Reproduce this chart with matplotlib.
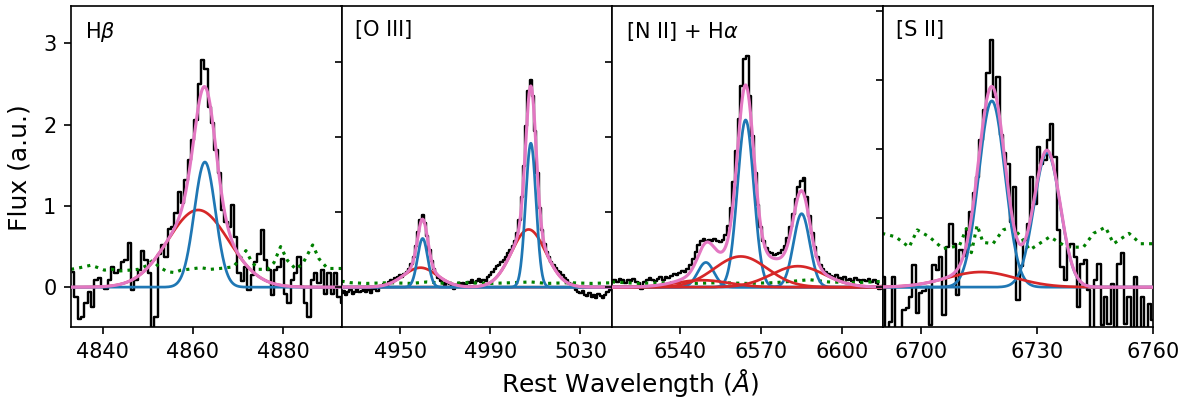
"""Emission-line fits: Hbeta, [O III], [N II]+Halpha and [S II] panels."""

import numpy as np
import matplotlib
matplotlib.use("Agg")
import matplotlib.pyplot as plt

# ---- H beta ---------------------------------------------------------------
hb_start, hb_step = 4833.35, 0.739
hb_flux = [0.19, -0.12, -0.39, -0.37, -0.20, -0.06, -0.24, 0.09, 0.11, 0.00,
           -0.02, 0.09, 0.25, 0.17, 0.21, 0.31, 0.33, 0.54, -0.04, 0.09,
           0.21, 0.44, 0.33, 0.17, -0.60, -0.37, 0.41, 0.52, 0.37, 0.72,
           0.74, 0.91, 1.17, 1.03, 1.32, 1.56, 1.81, 2.06, 2.50, 2.80,
           2.69, 2.22, 2.02, 1.69, 1.40, 0.95, 0.80, 0.74, 1.01, 0.62,
           0.17, 0.07, 0.25, -0.04, 0.15, 0.31, 0.41, 0.70, 0.33, 0.21,
           -0.10, 0.21, 0.25, 0.35, -0.08, -0.20, 0.09, 0.17, 0.37, 0.00,
           -0.20, -0.37, 0.09, 0.17, 0.05, 0.21, -0.08, 0.17, -0.08, 0.17,
           -0.12, -0.20]
hb_err_wave = [4833.0, 4835.0, 4837.4, 4839.0, 4840.4, 4842.0, 4844.0, 4846.0,
               4848.0, 4850.0, 4851.1, 4852.5, 4854.4, 4856.0, 4857.4, 4859.0,
               4861.8, 4864.0, 4866.0, 4869.0, 4870.5, 4871.8, 4873.0, 4874.5,
               4876.6, 4878.0, 4879.5, 4881.0, 4882.9, 4884.5, 4886.6, 4888.0,
               4889.9, 4893.0]
hb_err = [0.22, 0.24, 0.27, 0.24, 0.21, 0.22, 0.20, 0.21, 0.22, 0.27, 0.33,
          0.25, 0.19, 0.18, 0.21, 0.22, 0.24, 0.22, 0.23, 0.25, 0.35, 0.45,
          0.32, 0.22, 0.22, 0.30, 0.50, 0.33, 0.22, 0.30, 0.52, 0.35, 0.23,
          0.23]
# (amplitude, centre, sigma)
hb_narrow = [(1.54, 4862.7, 2.35)]
hb_broad = [(0.95, 4861.2, 6.75)]

# ---- [O III] --------------------------------------------------------------
o3_start, o3_step = 4924.0, 1.0
o3_flux = [-0.08, -0.05, -0.10, -0.06, -0.04, -0.09, -0.06, -0.03, -0.07, -0.05,
           -0.02, -0.06, -0.04, -0.08, -0.03, -0.01, -0.05, 0.01, 0.00, 0.04,
           0.02, 0.07, 0.10, 0.08, 0.12, 0.14, 0.16, 0.13, 0.18, 0.20,
           0.24, 0.31, 0.40, 0.55, 0.74, 0.90, 0.96, 0.86, 0.68, 0.50,
           0.35, 0.24, 0.17, 0.12, 0.08, 0.05, 0.03, 0.06, 0.04, 0.00,
           -0.02, 0.03, 0.05, 0.02, 0.06, 0.04, 0.07, 0.05, 0.09, 0.06,
           0.08, 0.11, 0.07, 0.10, 0.08, 0.13, 0.16, 0.20, 0.24, 0.28,
           0.30, 0.33, 0.36, 0.40, 0.45, 0.50, 0.55, 0.62, 0.72, 0.90,
           1.20, 1.62, 2.15, 2.62, 2.77, 2.55, 2.08, 1.52, 1.05, 0.76,
           0.58, 0.47, 0.40, 0.34, 0.30, 0.26, 0.22, 0.20, 0.16, 0.12,
           0.10, 0.06, 0.04, 0.00, -0.04, -0.06, -0.08, -0.05, -0.10, -0.12,
           -0.08, -0.13, -0.10, -0.14, -0.09, -0.12, -0.15, -0.10, -0.06, -0.04,
           0.00, -0.02]
o3_err_wave = [4924, 4928, 4935, 4945, 4955, 4962, 4970, 4980, 4990, 5000,
               5008, 5015, 5025, 5035, 5045]
o3_err = [0.08, 0.06, 0.05, 0.06, 0.05, 0.07, 0.05, 0.06, 0.05, 0.06,
          0.07, 0.05, 0.06, 0.05, 0.06]
o3_narrow = [(0.65, 4960.0, 2.25), (1.92, 5008.0, 2.3)]
o3_broad = [(0.26, 4959.0, 7.5), (0.77, 5007.0, 7.6)]

# ---- [N II] + H alpha -----------------------------------------------------
ha_start, ha_step = 6515.0, 1.0
ha_flux = [0.08, 0.10, 0.07, 0.11, 0.09, 0.06, 0.10, 0.08, 0.11, 0.07,
           0.05, -0.02, 0.07, 0.09, 0.12, 0.10, 0.08, 0.11, 0.13, 0.10,
           0.14, 0.12, 0.15, 0.17, 0.16, 0.19, 0.21, 0.20, 0.24, 0.30,
           0.38, 0.47, 0.56, 0.62, 0.64, 0.61, 0.63, 0.62, 0.64, 0.61,
           0.60, 0.63, 0.70, 0.82, 1.05, 1.40, 1.82, 2.25, 2.68, 3.05,
           3.08, 2.55, 2.02, 1.52, 1.10, 0.80, 0.62, 0.52, 0.47, 0.45,
           0.43, 0.44, 0.46, 0.50, 0.55, 0.65, 0.80, 0.98, 1.17, 1.33,
           1.42, 1.45, 1.20, 0.95, 0.72, 0.53, 0.40, 0.30, 0.24, 0.20,
           0.18, 0.15, 0.13, 0.16, 0.12, 0.10, 0.13, 0.09, 0.11, 0.08,
           0.12, 0.09, 0.07, 0.10, 0.08, 0.11, 0.07, 0.09, 0.05, -0.03,
           0.02, 0.00]
ha_err_wave = [6515, 6525, 6535, 6545, 6555, 6565, 6575, 6582, 6588, 6595,
               6605, 6616]
ha_err = [0.07, 0.05, 0.06, 0.05, 0.06, 0.05, 0.06, 0.08, 0.10, 0.07,
          0.06, 0.08]
ha_narrow = [(0.33, 6549.7, 3.0), (2.23, 6564.4, 3.0), (0.98, 6585.1, 3.0)]
ha_broad = [(0.093, 6548.3, 9.8), (0.41, 6562.6, 9.8), (0.28, 6583.7, 9.8)]

# ---- [S II] ---------------------------------------------------------------
s2_start, s2_step = 6690.3, 0.87
s2_flux = [0.15, -0.80, -0.50, 0.15, -0.80, -0.80, -0.33, -0.30, -0.14, 0.32,
           -0.38, -0.09, -0.05, 0.00, -0.55, 0.32, 0.25, 0.44, -0.41, 0.58,
           0.92, 0.63, -0.12, 0.54, 0.45, 0.83, 1.09, 1.36, 1.60, 2.13,
           2.57, 3.10, 3.58, 2.76, 3.05, 2.20, 1.94, 1.79, 0.95, 1.45,
           -0.19, 0.30, 0.68, 0.92, 1.60, 1.21, 2.03, 1.79, 1.84, 2.13,
           2.37, 1.89, 0.83, 0.29, 0.10, 0.58, 0.63, 0.44, -0.29, 0.34,
           0.39, -0.04, -0.80, 0.10, 0.34, -0.55, -0.14, -0.53, 0.05, -0.80,
           0.34, 0.49, -0.53, -0.14, -0.80, 0.15, -0.80, -0.14, -0.80, -0.24,
           -0.48]
s2_err_wave = [6689.9, 6693.4, 6696.9, 6699.0, 6702.1, 6705.6, 6709.9, 6711.7,
               6713.0, 6714.5, 6716.0, 6718.6, 6721.2, 6723.4, 6725.6, 6728.1,
               6733.3, 6737.7, 6742.0, 6744.6, 6747.7, 6749.8, 6753.8, 6756.8,
               6760.3]
s2_err = [0.78, 0.73, 0.58, 0.83, 0.73, 0.56, 0.60, 0.85, 0.50, 0.90, 0.65,
          0.63, 0.83, 0.87, 0.75, 0.54, 0.73, 0.58, 0.58, 0.78, 0.87, 0.63,
          0.78, 0.63, 0.63]
s2_narrow = [(2.70, 6718.3, 3.4), (1.95, 6732.6, 3.4)]
s2_broad = [(0.22, 6715.5, 8.9)]

labels = [r"H$\beta$", "[O III]", r"[N II] + H$\alpha$", "[S II]"]
xticks = [[4840, 4860, 4880], [4950, 4990, 5030],
          [6540, 6570, 6600], [6700, 6730, 6760]]


def gauss(x, amp, mu, sig):
    return amp * np.exp(-0.5 * ((x - mu) / sig) ** 2)


panels = [
    dict(start=hb_start, step=hb_step, flux=hb_flux, ew=hb_err_wave, err=hb_err,
         narrow=hb_narrow, broad=hb_broad, xlim=(4833, 4893), scale=1.0,
         red_first=True),
    dict(start=o3_start, step=o3_step, flux=o3_flux, ew=o3_err_wave, err=o3_err,
         narrow=o3_narrow, broad=o3_broad, xlim=(4924, 5044), scale=1.084,
         red_first=True),
    dict(start=ha_start, step=ha_step, flux=ha_flux, ew=ha_err_wave, err=ha_err,
         narrow=ha_narrow, broad=ha_broad, xlim=(6515, 6615), scale=1.084,
         red_first=False),
    dict(start=s2_start, step=s2_step, flux=s2_flux, ew=s2_err_wave, err=s2_err,
         narrow=s2_narrow, broad=s2_broad, xlim=(6690, 6760), scale=1.178,
         red_first=False),
]

BLUE, RED, PINK = "#1f77b4", "#d62728", "#e377c2"

fig, axes = plt.subplots(1, 4, figsize=(7.9, 2.68), dpi=150)
fig.subplots_adjust(left=71 / 1185, right=1153 / 1185, bottom=1 - 327 / 402,
                    top=1 - 6 / 402, wspace=0)

for ax, p, lab, xt in zip(axes, panels, labels, xticks):
    wave = p["start"] + p["step"] * np.arange(len(p["flux"]))
    ax.plot(wave, p["flux"], color="k", drawstyle="steps-mid", lw=1.15, zorder=1)
    ax.plot(p["ew"], p["err"], color="green", ls=":", lw=1.5, zorder=2)

    xf = np.linspace(p["xlim"][0] - 2, p["xlim"][1] + 2, 1200)
    total = np.zeros_like(xf)
    groups = [(p["broad"], RED), (p["narrow"], BLUE)]
    if not p["red_first"]:
        groups = groups[::-1]
    for comps, col in groups:
        for amp, mu, sig in comps:
            y = gauss(xf, amp, mu, sig)
            total += y
            ax.plot(xf, y, color=col, lw=1.3, zorder=3)
    ax.plot(xf, total, color=PINK, lw=1.5, zorder=4)

    s = p["scale"]
    ax.set_xlim(*p["xlim"])
    ax.set_ylim(-0.49 * s, 3.46 * s)
    ax.set_xticks(xt)
    ax.set_yticks(np.arange(0, int(3.46 * s) + 1))
    ax.tick_params(labelsize=10)
    ax.text(0.05, 0.955, lab, transform=ax.transAxes, ha="left", va="top",
            fontsize=10)

for ax in axes[1:]:
    ax.tick_params(labelleft=False)

fig.text(630 / 1185, 1 - 383 / 402, r"Rest Wavelength ($\AA$)", ha="center",
         va="center", fontsize=12)
fig.text(20 / 1185, 1 - 168 / 402, "Flux (a.u.)", ha="center", va="center",
         rotation=90, fontsize=12)

fig.savefig("out.png", dpi=150)
